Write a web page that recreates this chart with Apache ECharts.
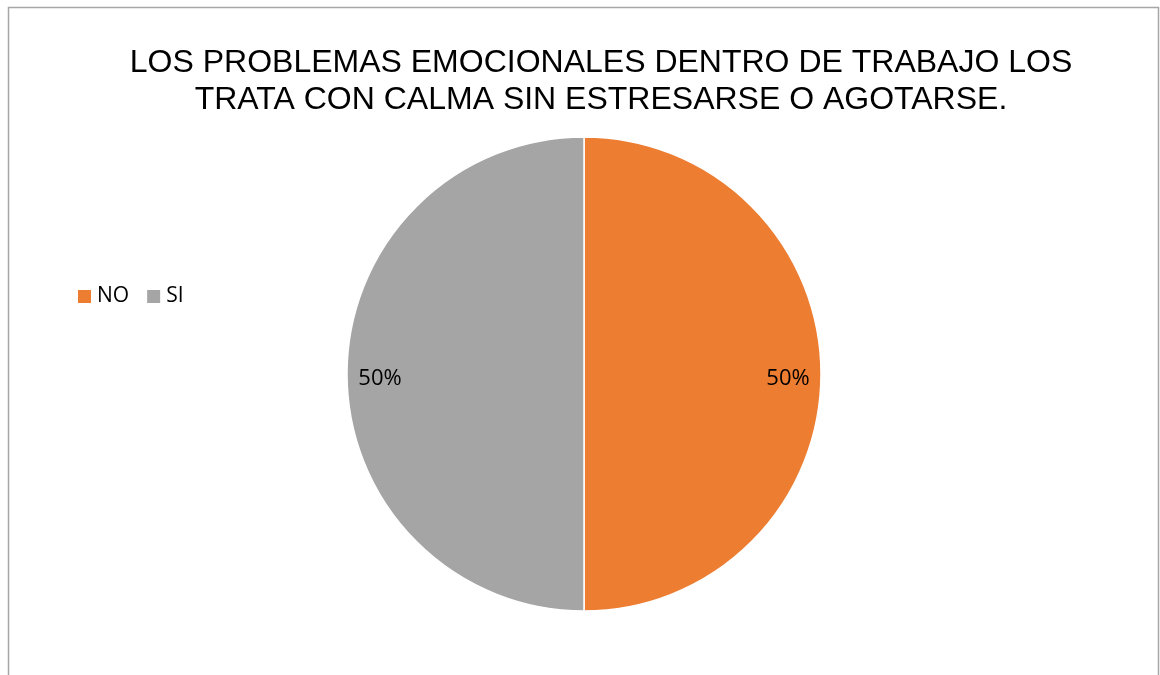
<!DOCTYPE html>
<html>
<head>
<meta charset="utf-8">
<script src="https://cdn.jsdelivr.net/npm/echarts@6/dist/echarts.min.js"></script>
<style>
html,body{margin:0;padding:0;background:#fff;}
#chart{width:1160px;height:675px;}
</style>
</head>
<body>
<div id="chart"></div>
<script>
const titleText = "LOS PROBLEMAS EMOCIONALES DENTRO DE TRABAJO LOS\nTRATA CON CALMA SIN ESTRESARSE O AGOTARSE.";
const categories = ["NO", "SI"];
const values = [50, 50];
const colors = ["#ED7D31", "#A5A5A5"];

const data = categories.map((c, i) => ({ name: c, value: values[i], itemStyle: { color: colors[i] } }));
const chart = echarts.init(document.getElementById('chart'));
chart.setOption({
  animation: false,
  backgroundColor: '#fff',
  graphic: [{
    type: 'rect', shape: { x: 8.5, y: 7.5, width: 1150, height: 700 },
    style: { fill: 'none', stroke: '#a6a6a6', lineWidth: 1.5 }, silent: true, z: -1
  }],
  title: {
    text: titleText, left: 596, textAlign: 'center', top: 40,
    textStyle: { fontFamily: 'Liberation Sans, Arial, sans-serif', fontSize: 32, fontWeight: 'normal', color: '#000', lineHeight: 37 }
  },
  legend: {
    data: categories, orient: 'horizontal', left: 71, top: 281, padding: 5,
    icon: 'rect', itemWidth: 15, itemHeight: 15, itemGap: 16,
    textStyle: { fontFamily: 'Open Sans, Noto Sans, sans-serif', fontSize: 21, color: '#000', padding: [0, 0, 0, 0] }
  },
  series: [{
    type: 'pie', center: [584, 374], radius: [0, 237], startAngle: 90, clockwise: true,
    data: data, label: { show: false }, labelLine: { show: false },
    itemStyle: { borderColor: '#fff', borderWidth: 1.5 }
  }, {
    type: 'pie', center: [584, 374], radius: [166, 236], startAngle: 90, clockwise: true, silent: true,
    data: categories.map((c, i) => ({ name: c, value: values[i] })),
    legendHoverLink: false,
    itemStyle: { color: 'rgba(0,0,0,0)' },
    label: { show: true, position: 'inside', formatter: p => Math.round(p.percent) + '%', fontFamily: 'Open Sans, Noto Sans, sans-serif', fontSize: 22, color: '#000', offset: [0, 5] },
    labelLine: { show: false }
  }]
});
</script>
</body>
</html>
